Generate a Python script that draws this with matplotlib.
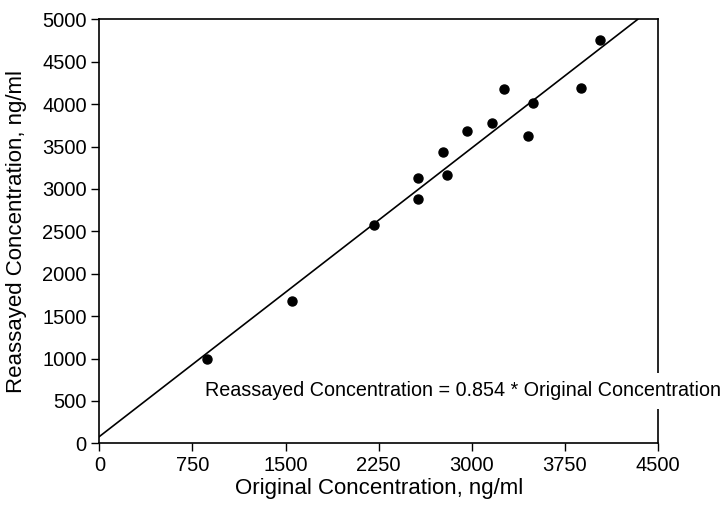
import matplotlib
matplotlib.use("Agg")
import matplotlib.pyplot as plt

plt.rcParams['font.family'] = ['Liberation Sans', 'DejaVu Sans']

# Points
original = [865, 1551, 2215, 2565, 2565, 2766, 2802, 2963, 3164, 3258,
            3455, 3492, 3882, 4030]
reassayed = [995, 1674, 2579, 3126, 2886, 3438, 3170, 3681, 3772, 4173,
             3630, 4016, 4185, 4752]

# Fitted line as drawn (ends at the top of the plot)
fit_x = [0, 4336]
fit_y = [80, 5000]

x_ticks = [0, 750, 1500, 2250, 3000, 3750, 4500]
y_ticks = [0, 500, 1000, 1500, 2000, 2500, 3000, 3500, 4000, 4500, 5000]

equation = "Reassayed Concentration = 0.854 * Original Concentration"


def main():
    fig = plt.figure(figsize=(7.2, 5.09), dpi=100)
    ax = fig.add_axes([0.138, 0.129, 0.776, 0.833])

    ax.plot(fit_x, fit_y, color='black', linewidth=1.2, zorder=3)
    ax.plot(original, reassayed, 'o', color='black', markersize=6.5, zorder=4)

    ax.set_xlim(0, 4500)
    ax.set_ylim(0, 5000)
    ax.set_xticks(x_ticks)
    ax.set_yticks(y_ticks)
    ax.tick_params(direction='out', length=6, width=1, labelsize=14.5,
                   colors='black', pad=3)

    for s in ax.spines.values():
        s.set_linewidth(1.2)

    ax.set_xlabel('Original Concentration, ng/ml', fontsize=16)
    ax.set_ylabel('Reassayed Concentration, ng/ml', fontsize=16)
    ax.xaxis.set_label_coords(0.5, -0.082)
    ax.yaxis.set_label_coords(-0.13, 0.5)

    # equation text overlaps (and hides) part of the right spine
    ax.text(850, 620, equation, fontsize=14.2, va='center', ha='left',
            clip_on=False, zorder=6,
            bbox=dict(facecolor='white', edgecolor='none', pad=6))

    fig.savefig('out.png', dpi=100, facecolor='white')


if __name__ == "__main__":
    main()
